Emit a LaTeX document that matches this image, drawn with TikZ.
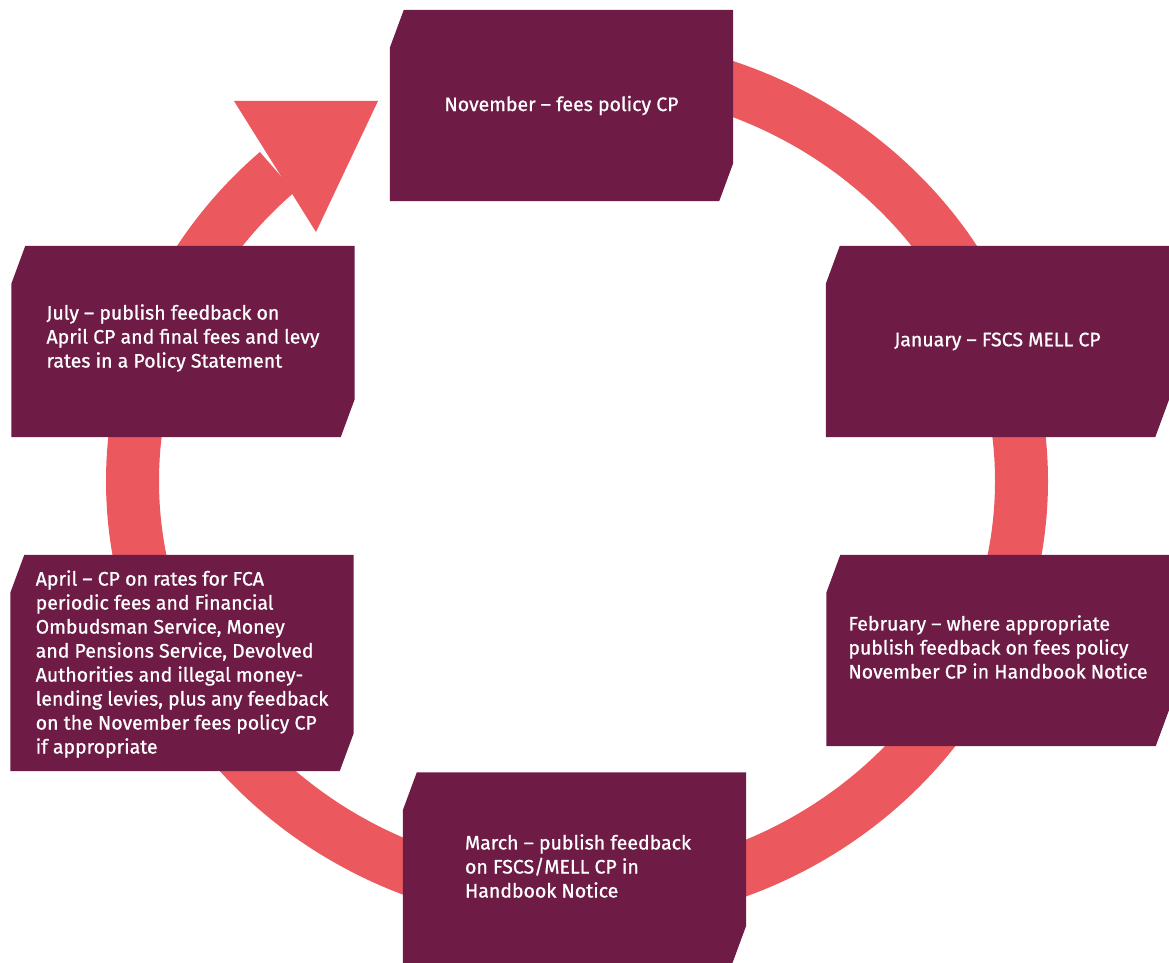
\documentclass[tikz,border=0pt]{standalone}
\usepackage{fontspec}
\setmainfont{Fira Sans}[FakeBold=0.9]
\usetikzlibrary{calc,backgrounds}
\definecolor{plum}{RGB}{110,27,70}
\definecolor{coral}{RGB}{235,89,94}
\tikzset{
	stage/.style={minimum width=343pt, minimum height=191pt, inner sep=0pt,
		text=white, align=left, font=\fontsize{19.5}{24}\selectfont},
}
\begin{document}
\begin{tikzpicture}[x=1pt,y=1pt]
	\useasboundingbox (0,0) rectangle (1169,-963);
	\path
	(561.5,-105.5) node[stage] (nov) {November – fees policy CP}
	(997.5,-341.5) node[stage] (jan) {January – FSCS MELL CP}
	(998,-647)     node[stage] (feb) {February – where appropriate\\publish feedback on fees policy\\November CP in Handbook Notice}
	(578,-866)     node[stage] (mar) {March – publish feedback\\on FSCS/MELL CP in\\Handbook Notice}
	(182,-664)     node[stage,minimum height=216pt] (apr) {April – CP on rates for FCA\\periodic fees and Financial\\Ombudsman Service, Money\\and Pensions Service, Devolved\\Authorities and illegal money-\\lending levies, plus any feedback\\on the November fees policy CP\\if appropriate}
	(183,-338)     node[stage] (jul) {July – publish feedback on\\April CP and final fees and levy\\rates in a Policy Statement};
	\begin{scope}[on background layer]
	% ring, clockwise from behind the November box
	\draw[coral,line width=53pt] (577,-62.5) arc[start angle=90,end angle=-227.6,x radius=444.5,y radius=418.5];
	\fill[coral] (234,-101) -- (378,-101) -- (316,-232) -- cycle;
	% boxes with two cut corners, nudged back where the text sits off centre
	\foreach \n/\dx/\dy in {nov/0/0,jan/0/0,feb/0/-3.5,mar/-3.5/-2,apr/0/1,jul/0/-3.5}
		\fill[plum] ($(\n.north west)+(14+\dx,\dy)$) -- ($(\n.north east)+(\dx,\dy)$) -- ($(\n.south east)+(\dx,38+\dy)$)
		-- ($(\n.south east)+(-14+\dx,\dy)$) -- ($(\n.south west)+(\dx,\dy)$) -- ($(\n.north west)+(\dx,-38+\dy)$) -- cycle;
	\end{scope}
\end{tikzpicture}
\end{document}
